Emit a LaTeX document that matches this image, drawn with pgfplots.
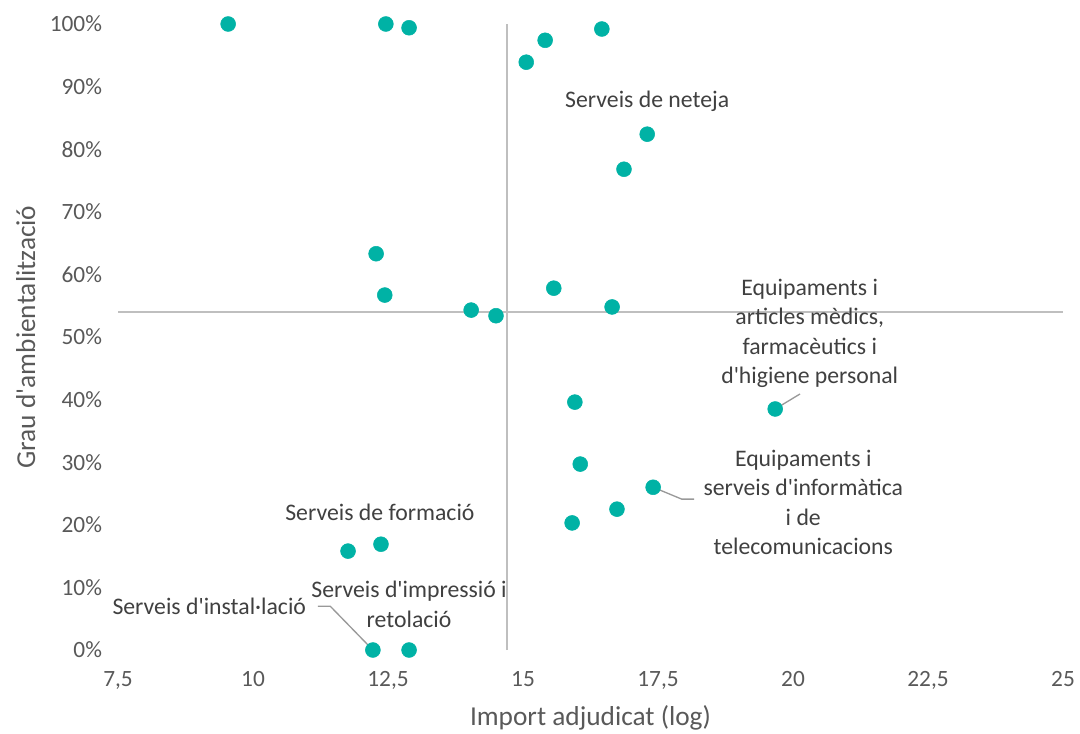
\documentclass[border=0pt]{standalone}
\usepackage{pgfplots}
\pgfplotsset{compat=1.18}
\usepackage{fontspec}
\setmainfont{Carlito}
\definecolor{dot}{RGB}{0,178,165}
\definecolor{refl}{RGB}{191,191,191}
\definecolor{lbl}{RGB}{64,64,64}
\definecolor{tck}{RGB}{89,89,89}
\newcommand{\q}{\textquotesingle}
\begin{document}
\fontsize{17.5}{22}\selectfont
\begin{tikzpicture}
\begin{axis}[
    scale only axis,
    width=708.75pt,
    height=469.5pt,
    xmin=7.5, xmax=25,
    ymin=0, ymax=100,
    clip=false,
    axis line style={draw=none},
    tick style={draw=none},
    xtick={7.5,10,12.5,15,17.5,20,22.5,25},
    ytick={0,10,...,100},
    /pgf/number format/use comma,
    /pgf/number format/assume math mode=true,
    yticklabel={\pgfmathprintnumber{\tick}\%},
    ticklabel style={font=\fontsize{17.5}{22}\selectfont, text=tck},
    xticklabel style={yshift=-10pt},
    yticklabel style={xshift=-6pt},
    xlabel={Import adjudicat (log)},
    ylabel={Grau d\q ambientalització},
    label style={font=\fontsize{20.5}{24}\selectfont, text=tck},
    xlabel style={yshift=0pt},
    ylabel style={yshift=-1pt},
]
% linies de referencia
\addplot[refl, line width=1.3pt] coordinates {(14.70,0) (14.70,100)};
\addplot[refl, line width=1.3pt] coordinates {(7.5,54.0) (25,54.0)};
% linies guia
\draw[refl!80!black, line width=1pt] (axis cs:19.67,38.5) -- (axis cs:20.13,40.9);
\draw[refl!80!black, line width=1pt] (axis cs:17.41,26.0) -- (axis cs:17.94,24.1) -- (axis cs:18.17,24.1);
\draw[refl!80!black, line width=1pt] (axis cs:11.20,7.0) -- (axis cs:11.43,7.0) -- (axis cs:12.22,0);
% punts
\addplot[only marks, mark=*, mark size=5.6pt, color=dot, mark options={draw=dot, fill=dot}] coordinates {
(9.54,100) (12.46,100) (12.89,99.4) (16.46,99.2) (15.41,97.4) (15.06,93.9)
(17.30,82.4) (16.87,76.8) (12.28,63.3) (12.44,56.7) (15.57,57.8) (16.65,54.8)
(14.04,54.3) (14.50,53.4) (15.96,39.6) (19.67,38.5) (16.06,29.7) (17.41,26.0)
(16.74,22.5) (15.91,20.3) (12.37,16.9) (11.76,15.8) (12.22,0) (12.89,0)
};
% etiquetes
\begin{scope}[every node/.style={text=lbl, align=center, font=\fontsize{17.8}{22}\selectfont}]
\node at (axis cs:17.30,87.7) {Serveis de neteja};
\node at (axis cs:20.31,50.6) {Equipaments i\\articles mèdics,\\farmacèutics i\\d\q higiene personal};
\node at (axis cs:20.19,23.6) {Equipaments i\\serveis d\q informàtica\\i de\\telecomunicacions};
\node at (axis cs:12.35,22.0) {Serveis de formació};
\node at (axis cs:12.89,7.3) {Serveis d\q impressió i\\retolació};
\node at (axis cs:9.19,7.0) {Serveis d\q instal·lació};
\end{scope}
\end{axis}
\pgfresetboundingbox
\useasboundingbox ([xshift=-88.5pt,yshift=-62.25pt]current axis.south west) rectangle ([xshift=12.75pt,yshift=18pt]current axis.north east);
\end{tikzpicture}
\end{document}
